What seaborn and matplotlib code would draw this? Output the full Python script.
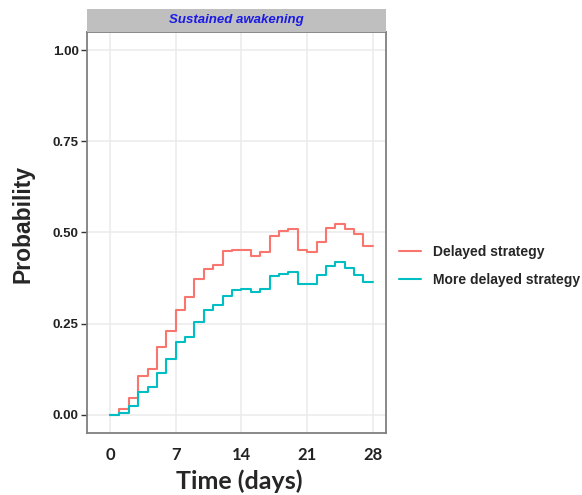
import numpy as np
import pandas as pd
import matplotlib
matplotlib.use("Agg")
import matplotlib.pyplot as plt
import seaborn as sns

# Step estimates (value held from each day to the next)
days = list(range(0, 29))
delayed = [0.000, 0.016, 0.046, 0.105, 0.126, 0.185, 0.231, 0.288, 0.322, 0.372,
           0.400, 0.411, 0.450, 0.453, 0.453, 0.436, 0.447, 0.490, 0.504, 0.510,
           0.452, 0.446, 0.475, 0.511, 0.522, 0.509, 0.496, 0.464, 0.464]
more_delayed = [0.000, 0.005, 0.024, 0.062, 0.076, 0.114, 0.153, 0.199, 0.213, 0.254,
                0.288, 0.301, 0.327, 0.343, 0.346, 0.338, 0.345, 0.382, 0.385, 0.392,
                0.360, 0.359, 0.384, 0.408, 0.418, 0.402, 0.384, 0.364, 0.364]
strategies = ["Delayed strategy", "More delayed strategy"]
panel_title = "Sustained awakening"
x_ticks = [0, 7, 14, 21, 28]
y_ticks = [0.00, 0.25, 0.50, 0.75, 1.00]

df = pd.DataFrame({
    "Time": days * 2,
    "Probability": delayed + more_delayed,
    "Strategy": [strategies[0]] * len(days) + [strategies[1]] * len(days),
})

sns.set_theme(style="whitegrid")
plt.rcParams['font.family'] = ['Liberation Sans', 'DejaVu Sans']

fig = plt.figure(figsize=(5.82, 4.95), dpi=100)
ax = fig.add_axes([87 / 582, 1 - 433 / 495, (386 - 87) / 582, (433 - 32) / 495])

sns.lineplot(data=df, x="Time", y="Probability", hue="Strategy",
             palette=["#F8766D", "#00BFC4"], drawstyle="steps-post",
             linewidth=1.5, ax=ax, legend=True)

ax.set_xlim(-2.45, 29.4)
ax.set_ylim(-0.05, 1.05)
ax.set_xticks(x_ticks)
ax.set_yticks(y_ticks)
ax.set_yticklabels([f"{v:.2f}" for v in y_ticks], fontsize=9.5, fontweight='bold', color='#222222')
ax.set_xticklabels([str(v) for v in x_ticks], fontsize=12, fontweight='bold',
                   color='#222222', family=['Lato', 'DejaVu Sans'])
ax.tick_params(axis='y', length=4, width=1, color='#333333', pad=2, left=True)
ax.tick_params(axis='x', length=0, pad=10)
ax.grid(True, color='#EBEBEB', linewidth=1.1)
ax.set_facecolor('white')
for side, sp in ax.spines.items():
    sp.set_color('#7F7F7F')
    sp.set_linewidth(1.3)

ax.set_xlabel("Time (days)", fontsize=18, fontweight='bold', family=['Lato', 'DejaVu Sans'])
ax.xaxis.set_label_coords((239 - 87) / 299, -(469 - 433) / 401)
ax.set_ylabel("Probability", fontsize=16.5, fontweight='bold')
ax.yaxis.set_label_coords(-(87 - 34) / 299, (433 - 224) / 401)

# facet strip
strip = fig.add_axes([87 / 582, 1 - 32 / 495, (386 - 87) / 582, 23 / 495])
strip.set_facecolor('#BFBFBF')
strip.set_xticks([])
strip.set_yticks([])
for sp in strip.spines.values():
    sp.set_visible(False)
strip.text(0.5, 0.5, panel_title, ha='center', va='center', fontsize=9.5,
           fontweight='bold', style='italic', color='#1A1AE6', transform=strip.transAxes)

handles, labels = ax.get_legend_handles_labels()
ax.legend_.remove()
leg = fig.legend(handles, labels, loc='center left', bbox_to_anchor=(386 / 582, 1 - 266 / 495),
                 frameon=False, handlelength=1.6, handletextpad=0.85,
                 labelspacing=1.0, prop={'weight': 'bold', 'size': 10})

fig.savefig("out.png", dpi=100, facecolor='white')
